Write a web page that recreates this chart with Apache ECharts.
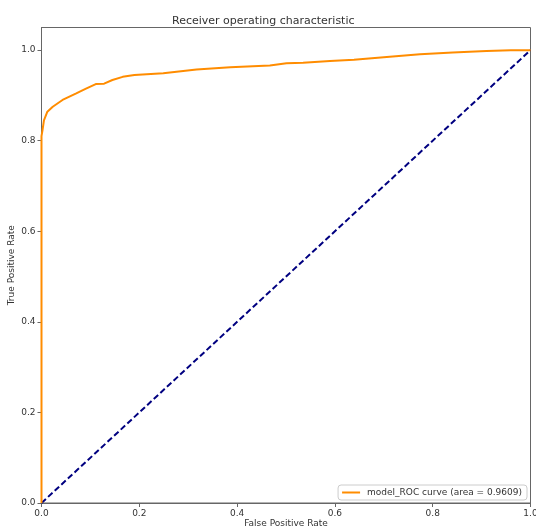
<!DOCTYPE html>
<html>
<head>
<meta charset="utf-8">
<script src="https://cdn.jsdelivr.net/npm/echarts@6/dist/echarts.min.js"></script>
<style>
  html, body { margin: 0; padding: 0; background: #fff; }
  #roc { width: 536px; height: 529px; }
</style>
</head>
<body>
<div id="roc"></div>
<script>
// ROC curve points
var fpr = [0.0, 0.0, 0.002, 0.005, 0.012, 0.023, 0.043, 0.070, 0.091, 0.111, 0.128, 0.145, 0.166, 0.190,
           0.249, 0.317, 0.386, 0.467, 0.501, 0.535, 0.590, 0.639, 0.706, 0.774, 0.841, 0.910, 0.960, 1.0];
var tpr = [0.0, 0.810, 0.823, 0.845, 0.864, 0.875, 0.890, 0.904, 0.915, 0.925, 0.926, 0.934, 0.941, 0.945,
           0.949, 0.957, 0.962, 0.966, 0.971, 0.972, 0.976, 0.979, 0.985, 0.991, 0.995, 0.998, 1.0, 1.0];
// chance line
var chanceX = [0, 1];
var chanceY = [0, 1];
var tickValues = [0, 0.2, 0.4, 0.6, 0.8, 1.0];
var rocName = 'model_ROC curve (area = 0.9609)';

var myChart = echarts.init(document.getElementById('roc'));

var rocData = fpr.map(function (x, i) { return [x, tpr[i]]; });
var chanceData = chanceX.map(function (x, i) { return [x, chanceY[i]]; });

var font = 'DejaVu Sans';

function axisOpts(name, max) {
  return {
    type: 'value',
    min: 0,
    max: max,
    name: name,
    nameLocation: 'middle',
    nameMoveOverlap: false,
    nameTextStyle: { fontFamily: font, fontSize: 9, color: '#333' },
    axisLine: { show: true, lineStyle: { color: '#666', width: 1 } },
    axisTick: { show: true, inside: false, length: 4, lineStyle: { color: '#666' }, customValues: tickValues },
    axisLabel: {
      fontFamily: font, fontSize: 9, color: '#333', margin: 6,
      customValues: tickValues,
      formatter: function (v) { return v.toFixed(1); }
    },
    splitLine: { show: false }
  };
}

var xAxis = axisOpts('False Positive Rate', 1);
xAxis.nameGap = 16;
var yAxis = axisOpts('True Positive Rate', 1.05);
yAxis.nameGap = 25;

var option = {
  animation: false,
  backgroundColor: '#fff',
  title: {
    text: 'Receiver operating characteristic',
    left: 167,
    top: 11,
    textStyle: { fontFamily: font, fontSize: 11, fontWeight: 'normal', color: '#333' }
  },
  grid: {
    left: 41.5,
    right: 5.5,
    top: 27.5,
    bottom: 26,
    show: true,
    borderColor: '#666',
    borderWidth: 1,
    containLabel: false,
    outerBoundsMode: 'none'
  },
  legend: {
    data: [{ name: rocName, icon: 'rect' }],
    right: 9,
    bottom: 29,
    itemWidth: 18,
    itemHeight: 2,
    itemGap: 6,
    padding: [3, 5, 3, 4],
    borderColor: '#ccc',
    borderWidth: 1,
    borderRadius: 3,
    backgroundColor: '#fff',
    textStyle: { fontFamily: font, fontSize: 9, color: '#333', padding: [0, 0, 0, 2] }
  },
  xAxis: xAxis,
  yAxis: yAxis,
  series: [
    {
      name: rocName,
      type: 'line',
      data: rocData,
      showSymbol: false,
      lineStyle: { color: '#ff8c00', width: 2 },
      itemStyle: { color: '#ff8c00' },
      z: 3
    },
    {
      name: 'chance',
      type: 'line',
      data: chanceData,
      showSymbol: false,
      lineStyle: { color: '#000080', width: 2, type: [6, 3] },
      itemStyle: { color: '#000080' },
      z: 2
    }
  ]
};

myChart.setOption(option);
</script>
</body>
</html>
